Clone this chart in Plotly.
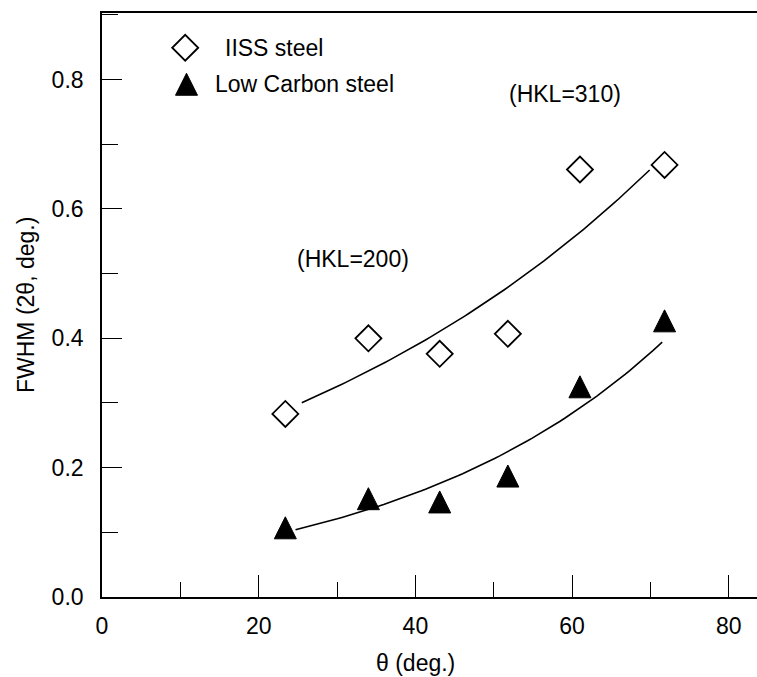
import numpy as np
import plotly.graph_objects as go

# Bragg angle of each reflection (deg.)
theta = [23.4, 34.0, 43.1, 51.8, 61.0, 71.8]
# Peak width FWHM (2-theta, deg.)
fwhm_iiss = [0.283, 0.400, 0.376, 0.407, 0.661, 0.668]
fwhm_lowc = [0.107, 0.152, 0.147, 0.187, 0.325, 0.427]

series_names = ["IISS steel", "Low Carbon steel"]
# theta span over which each exponential fit is drawn
fit_span_iiss = [25.5, 69.9]
fit_span_lowc = [24.7, 71.5]

x_ticks = [0, 20, 40, 60, 80]
y_ticks = [0.0, 0.2, 0.4, 0.6, 0.8]

FONT = "Liberation Sans"
FS = 23


def exp_fit(x, y, span):
    """Least-squares fit of ln(y) = ln(a) + b*x, sampled over span."""
    b, ln_a = np.polyfit(np.asarray(x), np.log(np.asarray(y)), 1)
    xs = np.linspace(span[0], span[1], 80)
    return xs, np.exp(ln_a + b * xs)


fig = go.Figure()

# fitted curves
for fw, span in ((fwhm_iiss, fit_span_iiss), (fwhm_lowc, fit_span_lowc)):
    xs, ys = exp_fit(theta, fw, span)
    fig.add_trace(go.Scatter(x=xs, y=ys, mode="lines",
                             line=dict(color="black", width=1.6),
                             showlegend=False, hoverinfo="skip"))

# measured points
diamond = dict(symbol="diamond-open", size=20, color="black",
               line=dict(color="black", width=1.8))
# upward triangle centred on the point (equilateral arrow head turned over)
triangle = dict(symbol="arrow-down", angle=180, size=22, standoff=11,
                color="black", line=dict(color="black", width=1))

fig.add_trace(go.Scatter(x=theta, y=fwhm_iiss, mode="markers", marker=diamond,
                         name=series_names[0], showlegend=False))
fig.add_trace(go.Scatter(x=theta, y=fwhm_lowc, mode="markers", marker=triangle,
                         name=series_names[1], showlegend=False))

# legend keys on an invisible unit overlay
fig.add_trace(go.Scatter(x=[0.127], y=[0.9405], mode="markers",
                         marker=dict(diamond, size=20), xaxis="x2", yaxis="y2",
                         showlegend=False, hoverinfo="skip"))
fig.add_trace(go.Scatter(x=[0.129], y=[0.878], mode="markers",
                         marker=dict(triangle, size=22, standoff=11),
                         xaxis="x2", yaxis="y2",
                         showlegend=False, hoverinfo="skip"))

annotations = [
    dict(text=series_names[0], xref="paper", yref="paper", x=0.185, y=0.9405,
         xanchor="left", yanchor="middle", showarrow=False),
    dict(text=series_names[1], xref="paper", yref="paper", x=0.170, y=0.878,
         xanchor="left", yanchor="middle", showarrow=False),
    dict(text="(HKL=200)", xref="x", yref="y", x=32.0, y=0.522,
         xanchor="center", yanchor="middle", showarrow=False),
    dict(text="(HKL=310)", xref="x", yref="y", x=59.1, y=0.777,
         xanchor="center", yanchor="middle", showarrow=False),
    dict(text="θ (deg.)", xref="x", yref="paper", x=40, y=0, yshift=-66,
         xanchor="center", yanchor="middle", showarrow=False),
    dict(text="FWHM (2θ, deg.)", xref="paper", yref="paper", x=0, y=0.5,
         xshift=-76, textangle=-90, xanchor="center", yanchor="middle",
         showarrow=False),
]

fig.update_layout(
    width=757, height=677,
    margin=dict(l=102, r=0, t=13, b=80, pad=0),
    paper_bgcolor="white", plot_bgcolor="white",
    font=dict(family=FONT, size=FS, color="black"),
    showlegend=False,
    annotations=annotations,
    xaxis=dict(range=[0, 83.6], tickvals=x_ticks, ticks="inside", ticklen=22,
               tickwidth=1.2, tickcolor="black",
               minor=dict(dtick=10, tick0=0, ticks="inside", ticklen=15,
                          tickwidth=1.2, tickcolor="black"),
               showline=True, linecolor="black", linewidth=1.6, mirror=True,
               showgrid=False, zeroline=False, ticklabelstandoff=8),
    yaxis=dict(range=[0, 0.903], tickvals=y_ticks, tickformat=".1f",
               ticks="inside", ticklen=20, tickwidth=1.2, tickcolor="black",
               minor=dict(dtick=0.1, tick0=0, ticks="inside", ticklen=16,
                          tickwidth=1.2, tickcolor="black"),
               showline=True, linecolor="black", linewidth=1.6,
               showgrid=False, zeroline=False, ticklabelstandoff=12),
    xaxis2=dict(overlaying="x", range=[0, 1], visible=False),
    yaxis2=dict(overlaying="y", range=[0, 1], visible=False),
)

fig.write_html("out.html")
